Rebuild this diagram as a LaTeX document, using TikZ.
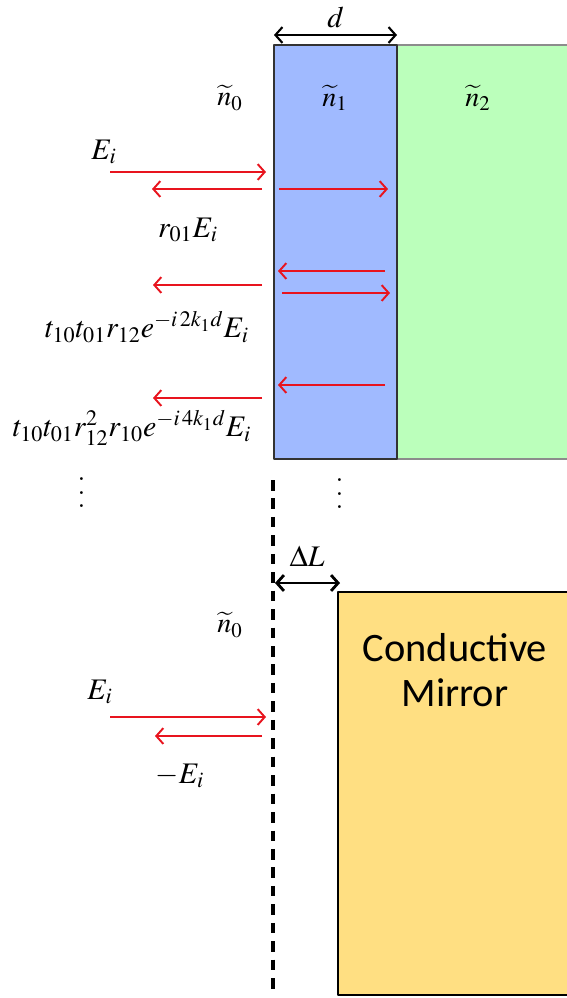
\documentclass[tikz,border=0pt]{standalone}
\usepackage[no-math]{fontspec}
\usepackage{mathptmx}
\newfontfamily\mirrorfont{Carlito}
\usetikzlibrary{arrows.meta}

\definecolor{layerblue}{RGB}{160,186,255}
\definecolor{layergreen}{RGB}{187,255,187}
\definecolor{mirrorgold}{RGB}{255,223,130}
\definecolor{raycol}{RGB}{232,20,30}

\newcommand{\stackdots}{\vbox{\baselineskip=7.7pt\lineskiplimit=-20pt\hbox{.}\hbox{.}\hbox{.}}}

\tikzset{
  ray/.style={raycol, line width=1.1pt, ->},
  span/.style={<->, line width=1.2pt},
  lbl/.style={font=\fontsize{17}{20}\selectfont},
  idx/.style={font=\fontsize{16}{19}\selectfont},
  etc/.style={font=\fontsize{20}{20}\selectfont, inner sep=0pt}
}

\begin{document}
\begin{tikzpicture}[x=0.02cm, y=-0.02cm, >={Straight Barb[length=4pt,width=9pt]}, line join=round]
  \useasboundingbox (0,0) rectangle (567,998);
  % thin film on substrate
  \fill[layergreen] (397,45) rectangle (567,459);
  \draw[black!45, line width=0.6pt] (397,45) -- (567,45) (397,459) -- (567,459);
  \fill[layerblue] (274,45) rectangle (397,459);
  \draw[black!80, line width=0.6pt] (274,45) rectangle (397,459);
  \draw[span] (274,35) -- (397,35) node[midway, above=0pt, lbl] {$d$};
  \node[idx] at (230,98) {$\widetilde{n}_0$};
  \node[idx] at (335,98) {$\widetilde{n}_1$};
  \node[idx] at (478,98) {$\widetilde{n}_2$};
  % multiple reflections
  \draw[ray] (110,172) -- (266,172);
  \draw[ray] (262,189) -- (152,189);
  \draw[ray] (279,189) -- (388,189);
  \draw[ray] (385,271) -- (278,271);
  \draw[ray] (282,293) -- (390,293);
  \draw[ray] (262,285) -- (153,285);
  \draw[ray] (385,385) -- (278,385);
  \draw[ray] (262,398) -- (153,398);
  \node[lbl] at (104,152) {$E_i$};
  \node[lbl] at (188,230) {$r_{01}E_i$};
  \node[lbl] at (147,327) {$t_{10}t_{01}r_{12}e^{-i\,2k_1d}E_i$};
  \node[lbl] at (132,428) {$t_{10}t_{01}r_{12}^2r_{10}e^{-i\,4k_1d}E_i$};
  \node[etc] at (82,493) {\stackdots};
  \node[etc] at (340,494) {\stackdots};
  % conductive mirror
  \draw[line width=1.8pt, dash pattern=on 6pt off 4.5pt] (273,480) -- (273,992);
  \draw[span, line width=1.6pt] (275,583) -- (340,583);
  \node[lbl] at (307,556) {$\Delta L$};
  \fill[mirrorgold] (338,592) rectangle (567,995);
  \draw[line width=0.8pt] (567,592) -- (338,592) -- (338,995) -- (567,995);
  \node[font=\mirrorfont\fontsize{23}{26}\selectfont, align=center] at (455,670) {Conductive\\Mirror};
  \node[idx] at (230,625) {$\widetilde{n}_0$};
  \draw[ray] (110,717) -- (266,717);
  \draw[ray] (262,736) -- (155,736);
  \node[lbl] at (100,692) {$E_i$};
  \node[lbl] at (180,776) {$-E_i$};
\end{tikzpicture}
\end{document}
